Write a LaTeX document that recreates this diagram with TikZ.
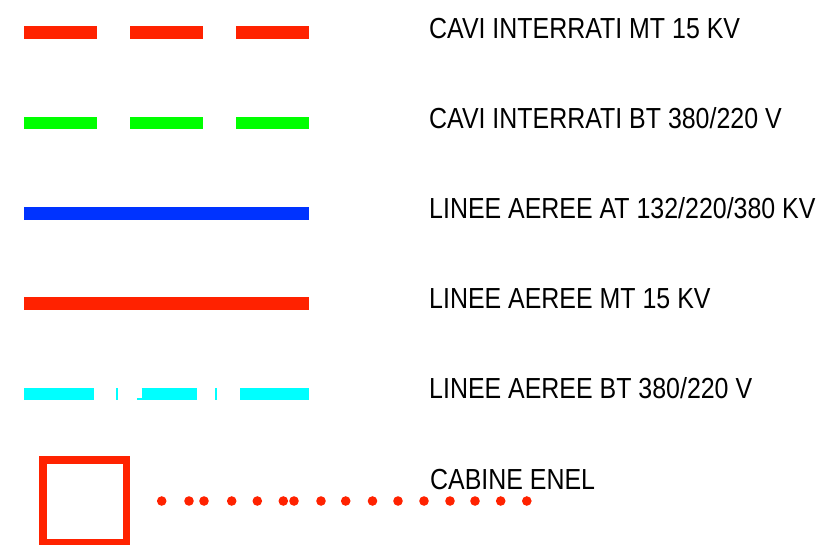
\documentclass[tikz,border=0pt]{standalone}
\usepackage{fontspec}
\setmainfont{Liberation Sans}[FakeStretch=0.86]
\definecolor{lred}{RGB}{255,34,0}
\definecolor{lgreen}{RGB}{0,255,0}
\definecolor{lblue}{RGB}{0,51,255}
\definecolor{lcyan}{RGB}{0,255,255}
\begin{document}
\begin{tikzpicture}[x=1pt,y=-1pt,
  lbl/.style={anchor=base west,inner sep=0pt,font=\fontsize{29}{34}\selectfont},
  seg/.style={line width=13pt,line cap=butt},
  dotmark/.style={fill=lred,draw=none}]
\useasboundingbox (0,0) rectangle (824,544);
% row 1: red dashed
\foreach \a/\b in {24/97,130/203,236/309}
  \draw[seg,lred] (\a,32.5) -- (\b,32.5);
\node[lbl] (t1) at (429,38) {CAVI INTERRATI MT 15 KV};
% row 2: green dashed
\foreach \a/\b in {24/97,130/203,236/309}
  \draw[seg,lgreen,line width=12pt] (\a,123) -- (\b,123);
\node[lbl] (t2) at (429,128) {CAVI INTERRATI BT 380/220 V};
% row 3: blue solid
\draw[seg,lblue] (24,213.5) -- (309,213.5);
\node[lbl] (t3) at (429,218) {LINEE AEREE AT 132/220/380 KV};
% row 4: red solid
\draw[seg,lred] (24,303.5) -- (309,303.5);
\node[lbl] (t4) at (429,308) {LINEE AEREE MT 15 KV};
% row 5: cyan dash-dot
\foreach \a/\b in {24/94,141.5/196.5,240/309}
  \draw[seg,lcyan,line width=12pt] (\a,394) -- (\b,394);
\draw[lcyan,line width=2pt] (117,388) -- (117,400);
\draw[lcyan,line width=2pt] (216,388) -- (216,400);
\draw[lcyan,line width=2pt] (137,399) -- (142,399);
\node[lbl] (t5) at (429,398) {LINEE AEREE BT 380/220 V};
% row 6: cabine
\draw[lred,line width=7.5pt] (43,460) rectangle (126.5,543);
\foreach \x in {161.7,189,204,231.7,257.3,283.3,294,321,345.7,372.5,398,424,450,475,500.7,526.8}
  \fill[dotmark] (\x,501) circle (4.8);
\node[lbl] (t6) at (430,489) {CABINE ENEL};
\end{tikzpicture}
\end{document}
